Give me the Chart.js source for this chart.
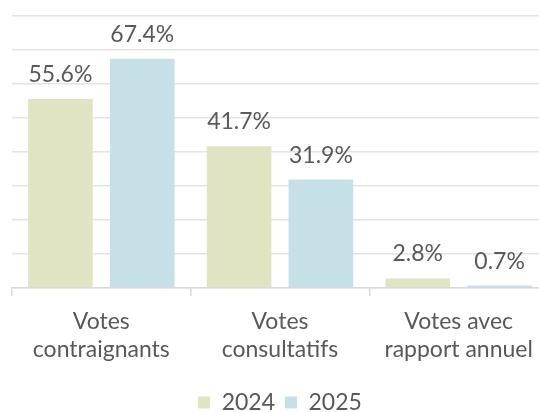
<!DOCTYPE html>
<html lang="fr">
<head>
<meta charset="UTF-8">
<title>Votes 2024 / 2025</title>
<script src="https://cdn.jsdelivr.net/npm/chart.js"></script>
<style>
    html, body { margin: 0; padding: 0; background: #fff; overflow: hidden; }
    .chart-box { position: relative; width: 550px; height: 424px; }
</style>
</head>
<body>
<div class="chart-box"><canvas id="votesChart"></canvas></div>
<script>
    const categories = [['Votes', 'contraignants'], ['Votes', 'consultatifs'], ['Votes avec', 'rapport annuel']];
    const years = ['2024', '2025'];
    const values2024 = [55.6, 41.7, 2.8];
    const values2025 = [67.4, 31.9, 0.7];
    const barColors = ['#e0e4c2', '#c5e0e6'];

    const textColor = '#595959';
    const gridColor = '#e3e3e3';
    const axisColor = '#d9d9d9';

    Chart.defaults.font.family = "Lato, 'Open Sans', sans-serif";
    Chart.defaults.font.size = 23;
    Chart.defaults.color = textColor;

    // percentage written above each bar
    const valueLabels = {
        id: 'valueLabels',
        afterDatasetsDraw(chart) {
            const ctx = chart.ctx;
            ctx.save();
            ctx.font = "23px Lato, 'Open Sans', sans-serif";
            ctx.fillStyle = textColor;
            ctx.textAlign = 'center';
            ctx.textBaseline = 'alphabetic';
            chart.data.datasets.forEach((ds, i) => {
                chart.getDatasetMeta(i).data.forEach((bar, j) => {
                    ctx.fillText(ds.data[j].toFixed(1) + '%', bar.x, bar.y - 17);
                });
            });
            ctx.restore();
        }
    };

    new Chart(document.getElementById('votesChart').getContext('2d'), {
        type: 'bar',
        data: {
            labels: categories,
            datasets: [
                { label: years[0], data: values2024, backgroundColor: barColors[0] },
                { label: years[1], data: values2025, backgroundColor: barColors[1] }
            ]
        },
        options: {
            responsive: true,
            maintainAspectRatio: false,
            animation: false,
            categoryPercentage: 0.916,
            barPercentage: 0.79,
            layout: { padding: { top: 16, left: 12, right: 2, bottom: 0 } },
            scales: {
                x: {
                    grid: { offset: true, drawOnChartArea: false, drawTicks: true, tickLength: 8, color: axisColor, lineWidth: 1.5 },
                    border: { display: true, color: axisColor, width: 1.5 },
                    ticks: { padding: 12, color: textColor, font: { size: 23 }, maxRotation: 0 },
                    afterFit: axis => { axis.height = 93; }
                },
                y: {
                    min: 0,
                    max: 80,
                    ticks: { display: false, stepSize: 10 },
                    grid: { color: gridColor, lineWidth: 1.5, drawTicks: false },
                    border: { display: false }
                }
            },
            plugins: {
                legend: {
                    position: 'bottom',
                    labels: { boxWidth: 12, boxHeight: 12, padding: 10, color: textColor, font: { size: 23 } }
                },
                tooltip: { enabled: false }
            }
        },
        plugins: [valueLabels]
    });
</script>
</body>
</html>
